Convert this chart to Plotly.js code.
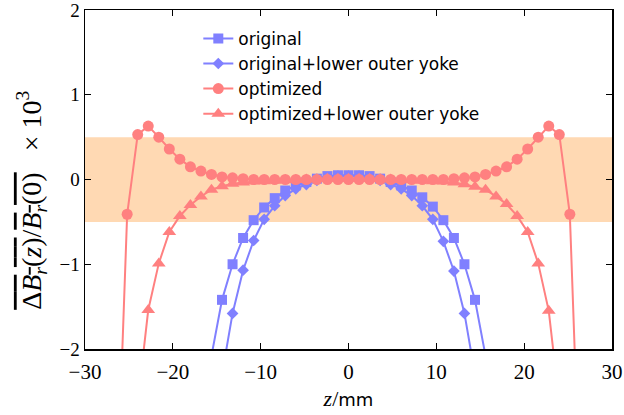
<!DOCTYPE html>
<html>
<head>
<meta charset="utf-8">
<script src="https://cdn.plot.ly/plotly-3.0.1.min.js"></script>
<style>html,body{margin:0;padding:0;background:#fff;}#chart{width:624px;height:415px;}</style>
</head>
<body>
<div id="chart"></div>
<script>
// z positions (mm)
const zOriginal = [-15.6,-14.4,-13.2,-12.0,-10.8,-9.6,-8.4,-7.2,-6.0,-4.8,-3.6,-2.4,-1.2,0,1.2,2.4,3.6,4.8,6.0,7.2,8.4,9.6,10.8,12.0,13.2,14.4,15.6];
const yOriginal = [-2.08,-1.42,-1.00,-0.69,-0.48,-0.33,-0.22,-0.13,-0.07,-0.03,0.01,0.04,0.05,0.05,0.05,0.04,0.01,-0.03,-0.07,-0.13,-0.21,-0.32,-0.48,-0.69,-1.00,-1.42,-2.08];

const zOrigYoke = [-14.4,-13.2,-12.0,-10.8,-9.6,-8.4,-7.2,-6.0,-4.8,-3.6,-2.4,-1.2,0,1.2,2.4,3.6,4.8,6.0,7.2,8.4,9.6,10.8,12.0,13.2,14.4];
const yOrigYoke = [-2.3,-1.58,-1.07,-0.72,-0.47,-0.31,-0.19,-0.11,-0.06,-0.01,0.02,0.04,0.04,0.04,0.02,-0.01,-0.06,-0.11,-0.19,-0.31,-0.47,-0.73,-1.08,-1.58,-2.3];

const zOptimized = [-26.4,-25.2,-24.0,-22.8,-21.6,-20.4,-19.2,-18.0,-16.8,-15.6,-14.4,-13.2,-12.0,-10.8,-9.6,-8.4,-7.2,-6.0,-4.8,-3.6,-2.4,-1.2,0,1.2,2.4,3.6,4.8,6.0,7.2,8.4,9.6,10.8,12.0,13.2,14.4,15.6,16.8,18.0,19.2,20.4,21.6,22.8,24.0,25.2,26.4];
const yOptimized = [-3.9,-0.41,0.53,0.63,0.50,0.36,0.24,0.15,0.10,0.06,0.03,0.02,0.01,0.0,0.0,0.0,0.0,0.0,0.0,0.0,0.0,0.0,0.0,0.0,0.0,0.0,0.0,0.0,0.0,0.0,0.0,0.0,0.01,0.02,0.03,0.06,0.10,0.15,0.24,0.36,0.50,0.63,0.53,-0.41,-3.9];

const zOptYoke = [-24.0,-22.8,-21.6,-20.4,-19.2,-18.0,-16.8,-15.6,-14.4,-13.2,-12.0,-10.8,-9.6,-8.4,-7.2,-6.0,-4.8,-3.6,-2.4,-1.2,0,1.2,2.4,3.6,4.8,6.0,7.2,8.4,9.6,10.8,12.0,13.2,14.4,15.6,16.8,18.0,19.2,20.4,21.6,22.8,24.0];
const yOptYoke = [-2.64,-1.54,-0.99,-0.62,-0.43,-0.30,-0.20,-0.12,-0.08,-0.05,-0.035,-0.025,-0.02,-0.015,-0.01,-0.005,0.0,0.005,0.01,0.01,0.01,0.01,0.01,0.005,0.0,-0.005,-0.01,-0.015,-0.02,-0.025,-0.035,-0.055,-0.085,-0.12,-0.20,-0.29,-0.43,-0.62,-0.99,-1.55,-2.64];

const seriesNames = ['original','original+lower outer yoke','optimized','optimized+lower outer yoke'];
const bandLimits = [-0.5, 0.5];
const xTicks = [-30,-20,-10,0,10,20,30];
const yTicks = [-2,-1,0,1,2];
const yTitle = '<span style="text-decoration:overline">\u0394<i>B</i><sub><i>r</i></sub>(<i>z</i>)</span>/<span style="text-decoration:overline"><i>B</i><sub><i>r</i></sub>(0)</span>\u00a0\u00a0\u00a0\u00d7\u00a010<sup>3</sup>';

const blue = 'rgb(128,128,255)';
const red = 'rgb(255,128,128)';
const serif = 'Liberation Serif, DejaVu Serif, serif';
const sans = 'DejaVu Sans, sans-serif';

function tr(x, y, name, color, symbol, size) {
  return {x: x, y: y, name: name, type: 'scatter', mode: 'lines+markers',
    line: {color: color, width: 2}, marker: {color: color, symbol: symbol, size: size},
    cliponaxis: true};
}

const data = [
  tr(zOriginal, yOriginal, seriesNames[0], blue, 'square', 10),
  tr(zOrigYoke, yOrigYoke, seriesNames[1], blue, 'diamond', 9),
  tr(zOptimized, yOptimized, seriesNames[2], red, 'circle', 11),
  tr(zOptYoke, yOptYoke, seriesNames[3], red, 'triangle-up', 12)
];

const fmt = v => (v < 0 ? '\u2212' + Math.abs(v) : String(v));

const layout = {
  width: 624, height: 415,
  margin: {l: 85, r: 12, t: 10, b: 66},
  paper_bgcolor: '#fff', plot_bgcolor: '#fff',
  showlegend: true,
  legend: {x: 0.215, y: 0.968, xanchor: 'left', yanchor: 'top', bgcolor: 'rgba(0,0,0,0)',
    borderwidth: 0, font: {family: sans, size: 17, color: '#000'}, tracegroupgap: 0},
  xaxis: {range: [-30, 30], tickvals: xTicks, ticktext: xTicks.map(fmt), ticks: 'inside', ticklen: 6,
    tickcolor: '#000', tickwidth: 1, showgrid: false, zeroline: false, showline: true, linecolor: '#000',
    linewidth: 1.5, mirror: 'ticks', ticklabeloverflow: 'allow', ticklabelstandoff: 3,
    tickfont: {family: serif, size: 21, color: '#000'},
    title: {text: '<i>z</i>/<span style="font-family:DejaVu Sans;font-size:18px">mm</span>', font: {family: serif, size: 22, color: '#000'}, standoff: 8}},
  yaxis: {range: [-2, 2], tickvals: yTicks, ticktext: yTicks.map(fmt), ticks: 'inside', ticklen: 6,
    tickcolor: '#000', tickwidth: 1, showgrid: false, zeroline: false, showline: true, linecolor: '#000',
    linewidth: 1.5, mirror: 'ticks', ticklabeloverflow: 'allow', tickfont: {family: serif, size: 19, color: '#000'}},
  annotations: [{text: yTitle, xref: 'paper', yref: 'paper', x: -0.1006, y: 0.44, xanchor: 'center', yanchor: 'middle',
    textangle: -90, showarrow: false, font: {family: serif, size: 28, color: '#000'}}],
  shapes: [{type: 'rect', xref: 'paper', x0: 0, x1: 1, yref: 'y', y0: bandLimits[0], y1: bandLimits[1],
    fillcolor: 'rgb(255,217,179)', line: {width: 0}, layer: 'below'}]
};

Plotly.newPlot('chart', data, layout, {displayModeBar: false, staticPlot: true});
</script>
</body>
</html>
